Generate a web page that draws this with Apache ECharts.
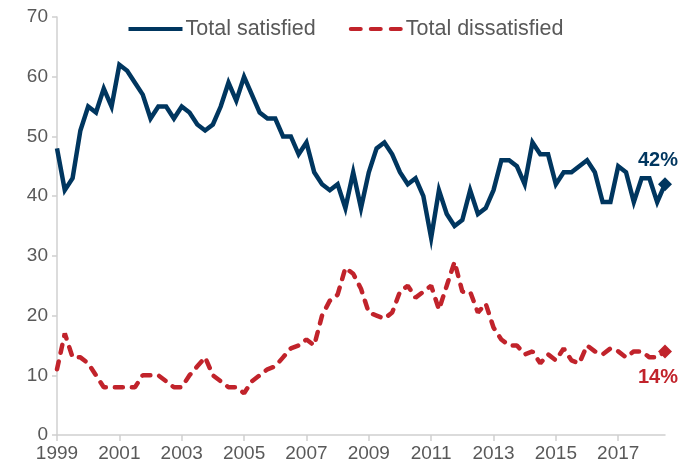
<!DOCTYPE html>
<html>
<head>
<meta charset="utf-8">
<script src="https://cdn.jsdelivr.net/npm/echarts@6/dist/echarts.min.js"></script>
<style>
html,body{margin:0;padding:0;background:#fff;}
#chart{width:692px;height:471px;}
</style>
</head>
<body>
<div id="chart"></div>
<script>
// Quarterly survey results, 1999 Q1 .. 2018 Q3
var startYear = 1999;
var satisfied = [48,41,43,51,55,54,58,55,62,61,59,57,53,55,55,53,
                 55,54,52,51,52,55,59,56,60,57,54,53,53,50,
                 50,47,49,44,42,41,42,38,44,38,44,48,49,47,44,42,
                 43,40,33,41,37,35,36,41,37,38,41,46,46,45,42,
                 49,47,47,42,44,44,45,46,44,39,39,45,44,39,43,43,39,42];
var dissatisfied = [11,17,13,13,12,10,8,8,8,8,8,10,10,10,9,8,
                    8,10,11.5,13,10,9,8,8,7,9,10,11,11.5,13,
                    14.5,15,16,15,20,22.5,23.5,28,27,24.5,20.5,20,19.5,20.5,24,25,
                    23,24,25,21,25,29,24,24,20.5,22,18,16,15,15,13.5,
                    14,12,13.5,12.5,14.5,12.5,12,15,14,13.5,14.5,14,13,14,14,13,13,14];
var yTicks = [0,10,20,30,40,50,60,70];
var seriesNames = ['Total satisfied','Total dissatisfied'];
var endLabels = ['42%','14%'];

var categories = [];
for (var i = 0; i < satisfied.length; i++) {
  var y = startYear + Math.floor(i / 4);
  categories.push(y + ' Q' + (i % 4 + 1));
}

var navy = '#00365F';
var red = '#C1232B';
var txt = '#595959';
var axisCol = '#D0D0D0';
var font = 'Liberation Sans';

function endMark(arr, color, label, pos, off) {
  var last = arr.length - 1;
  return {
    symbol: 'diamond',
    symbolSize: 14,
    itemStyle: {color: color},
    label: {
      show: true, formatter: label, position: pos, offset: off, distance: 5,
      color: color, fontWeight: 'bold', fontSize: 20, fontFamily: font
    },
    data: [{coord: [categories[last], arr[last]]}]
  };
}

var chart = echarts.init(document.getElementById('chart'), null, {renderer: 'canvas'});
chart.setOption({
  animation: false,
  grid: {left: 57, right: 27, top: 17, bottom: 36, containLabel: false},
  legend: {
    top: 13, left: 'center',
    itemWidth: 54, itemHeight: 4, itemGap: 33,
    textStyle: {color: txt, fontSize: 21.5, fontFamily: font, padding: [0,0,0,-2]},
    data: [
      {name: seriesNames[0], icon: 'rect', itemStyle: {color: navy}},
      {name: seriesNames[1], icon: 'path://M2,0h10a2,2 0 0 1 0,4h-10a2,2 0 0 1 0,-4z M22,0h10a2,2 0 0 1 0,4h-10a2,2 0 0 1 0,-4z M42,0h10a2,2 0 0 1 0,4h-10a2,2 0 0 1 0,-4z', itemStyle: {color: red}}
    ]
  },
  xAxis: {
    type: 'category',
    data: categories,
    boundaryGap: false,
    axisLine: {lineStyle: {color: axisCol, width: 1.5}},
    axisTick: {show: true, interval: 7, length: 6, lineStyle: {color: axisCol, width: 1.5}},
    axisLabel: {
      interval: 7, color: txt, fontSize: 19, fontFamily: font, margin: 9,
      formatter: function (v) { return v.split(' ')[0]; }
    },
    splitLine: {show: false}
  },
  yAxis: {
    type: 'value', min: yTicks[0], max: yTicks[yTicks.length - 1], interval: 10,
    axisLine: {show: true, lineStyle: {color: axisCol, width: 1.5}},
    axisTick: {show: true, length: 5, lineStyle: {color: axisCol, width: 1.5}},
    axisLabel: {color: txt, fontSize: 19, fontFamily: font, margin: 9},
    splitLine: {show: false}
  },
  series: [
    {
      name: seriesNames[0], type: 'line', symbol: 'none',
      color: navy,
      lineStyle: {color: navy, width: 4.5, join: 'miter'},
      data: satisfied,
      markPoint: endMark(satisfied, navy, endLabels[0], 'top', [-7, -2])
    },
    {
      name: seriesNames[1], type: 'line', symbol: 'none',
      color: red,
      lineStyle: {color: red, width: 4.5, type: [8, 9], cap: 'round'},
      data: dissatisfied,
      markPoint: endMark(dissatisfied, red, endLabels[1], 'bottom', [-7, 4])
    }
  ]
});
</script>
</body>
</html>
